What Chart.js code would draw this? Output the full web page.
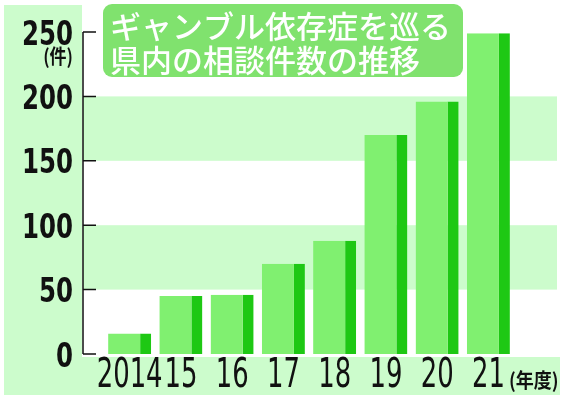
<!DOCTYPE html>
<html>
<head>
<meta charset="utf-8">
<script src="https://cdn.jsdelivr.net/npm/chart.js@4"></script>
<style>
  html, body { margin: 0; padding: 0; background: #ffffff; }
  #wrap { width: 563px; height: 400px; position: relative; }
</style>
</head>
<body>
<div id="wrap"><canvas id="gambleChart"></canvas></div>
<script>
// data
const years = ['2014', '15', '16', '17', '18', '19', '20', '21'];
const consultations = [16, 45, 46, 70, 88, 170, 196, 249];
const shadedBands = [[50, 100], [150, 200]];
const titleLines = ['ギャンブル依存症を巡る', '県内の相談件数の推移'];
const yUnit = '(件)';
const xUnit = '(年度)';

const lightGreen = '#80f070';
const darkGreen = '#1ec814';
const bandGreen = '#ccfccc';
const titleGreen = '#80e26e';
const cond = "'DejaVu Sans Condensed', 'DejaVu Sans', sans-serif";
const cjk = "'Noto Sans CJK JP', sans-serif";

function roundRect(c, x, y, w, h, r) {
    c.beginPath();
    c.moveTo(x + r, y);
    c.arcTo(x + w, y, x + w, y + h, r);
    c.arcTo(x + w, y + h, x, y + h, r);
    c.arcTo(x, y + h, x, y, r);
    c.arcTo(x, y, x + w, y, r);
    c.closePath();
}

// squeezed text, the newspaper figures use a narrow face
function narrowText(c, txt, x, y, sx, align) {
    c.save();
    c.translate(x, y);
    c.scale(sx, 1);
    c.textAlign = align;
    c.fillText(txt, 0, 0);
    c.restore();
}

const decor = {
    id: 'decor',
    // panels and bands under everything
    beforeDraw(chart) {
        const c = chart.ctx;
        const y = chart.scales.y;
        c.save();
        c.fillStyle = bandGreen;
        c.fillRect(4, 5, 78, 390);          // left column
        c.fillRect(4, 357, 556, 38);        // strip behind year labels
        shadedBands.forEach(function (b) {
            const top = y.getPixelForValue(b[1]);
            const bot = y.getPixelForValue(b[0]);
            c.fillRect(83, top, 474, bot - top);
        });
        c.restore();
    },
    afterDraw(chart) {
        const c = chart.ctx;
        const x = chart.scales.x;
        const y = chart.scales.y;
        const ax = 83;
        c.save();

        // y axis line with short ticks, from the scale's own ticks
        c.strokeStyle = '#111';
        c.lineWidth = 1.5;
        c.beginPath();
        c.moveTo(ax, y.getPixelForValue(y.min));
        c.lineTo(ax, y.getPixelForValue(y.max));
        y.ticks.forEach(function (t) {
            const py = y.getPixelForValue(t.value);
            c.moveTo(ax, py);
            c.lineTo(ax + 13, py);
        });
        c.stroke();

        // tick labels
        c.fillStyle = '#111';
        c.textBaseline = 'alphabetic';
        c.font = 'bold 34px ' + cond;
        y.ticks.forEach(function (t) {
            narrowText(c, String(t.value), 73, y.getPixelForValue(t.value) + 12.5, 0.8, 'right');
        });
        c.font = '40px ' + cond;
        x.ticks.forEach(function (t, i) {
            narrowText(c, x.getLabelForValue(t.value), x.getPixelForTick(i), 387, 0.72, 'center');
        });

        // units
        c.textBaseline = 'middle';
        c.font = 'bold 20px ' + cjk;
        narrowText(c, yUnit, 73, 56, 0.85, 'right');
        narrowText(c, xUnit, 509, 380, 0.9, 'left');

        // title box
        c.fillStyle = titleGreen;
        roundRect(c, 103, 4, 360, 73, 9);
        c.fill();
        c.fillStyle = '#ffffff';
        c.font = '500 31px ' + cjk;
        c.textAlign = 'left';
        c.fillText(titleLines[0], 110, 26);
        c.fillText(titleLines[1], 110, 60);
        c.restore();
    }
};

const chart = new Chart(document.getElementById('gambleChart'), {
    type: 'bar',
    data: {
        labels: years,
        datasets: [{
            data: consultations,
            backgroundColor: lightGreen,
            borderColor: darkGreen,
            borderWidth: { top: 0, right: 11, bottom: 0, left: 0 },
            borderSkipped: false,
            categoryPercentage: 1,
            barPercentage: 0.84
        }]
    },
    options: {
        responsive: true,
        maintainAspectRatio: false,
        animation: false,
        layout: { padding: { top: 32, right: 49, bottom: 0, left: 0 } },
        plugins: {
            legend: { display: false },
            tooltip: { enabled: false }
        },
        scales: {
            x: {
                grid: { display: false, drawTicks: false },
                border: { display: false },
                ticks: { display: false },
                afterFit: function (s) {
                    s.height = 46;
                    s.paddingLeft = 0; s.paddingRight = 0;
                }
            },
            y: {
                min: 0,
                max: 250,
                grid: { display: false, drawTicks: false },
                border: { display: false },
                ticks: { display: false, stepSize: 50 },
                afterFit: function (s) {
                    s.width = 104;
                    s.paddingTop = 0; s.paddingBottom = 0;
                }
            }
        }
    },
    plugins: [decor]
});
</script>
</body>
</html>
